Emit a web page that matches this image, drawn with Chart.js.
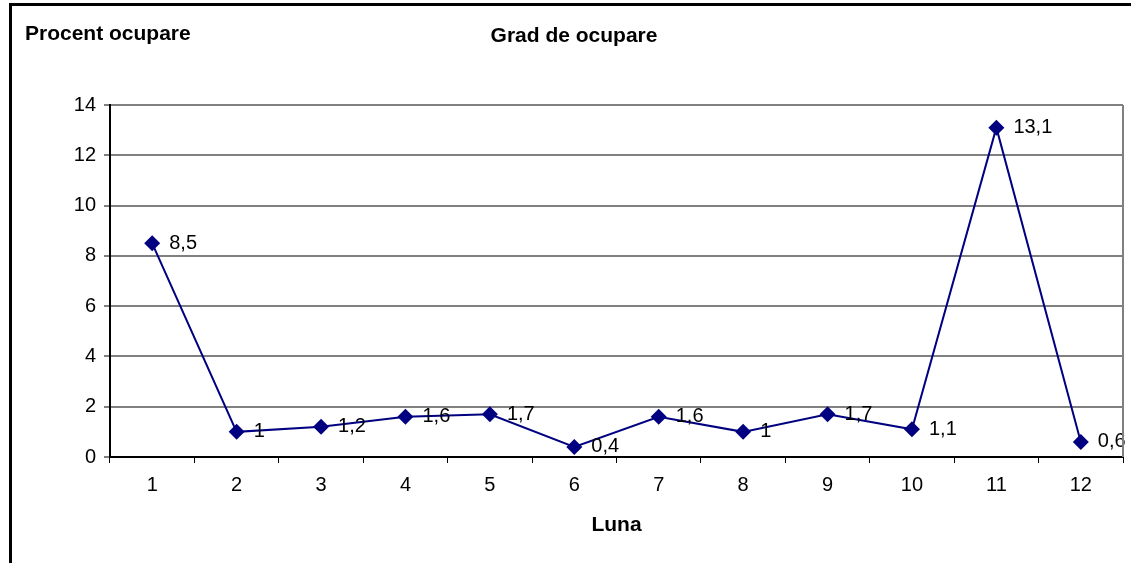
<!DOCTYPE html>
<html lang="ro">
<head>
    <meta charset="UTF-8">
    <title>Grad de ocupare</title>
    <script src="https://cdn.jsdelivr.net/npm/chart.js"></script>
    <style>
        body { margin: 0; background: white; }
        #wrap { position: relative; width: 1131px; height: 563px; }
    </style>
</head>
<body>
    <div id="wrap">
        <canvas id="occChart" width="1131" height="563"></canvas>
    </div>

    <script>
        const months = ["1", "2", "3", "4", "5", "6", "7", "8", "9", "10", "11", "12"];
        const occupancy = [8.5, 1, 1.2, 1.6, 1.7, 0.4, 1.6, 1, 1.7, 1.1, 13.1, 0.6];
        const yTicks = [0, 2, 4, 6, 8, 10, 12, 14];

        const FONT = "'Liberation Sans', Arial, sans-serif";

        // outer frame + the two titles that sit outside the plot
        const framePlugin = {
            id: "frame",
            beforeDraw(chart) {
                const c = chart.ctx;
                c.save();
                c.fillStyle = "#000";
                c.fillRect(9, 3, 3, 560);
                c.fillRect(9, 3, 1122, 3);
                c.font = "bold 21px " + FONT;
                c.textBaseline = "alphabetic";
                c.textAlign = "left";
                c.fillText("Procent ocupare", 25, 40);
                c.textAlign = "center";
                c.fillText("Grad de ocupare", 574, 42);
                c.restore();
            },
            afterDraw(chart) {
                const a = chart.chartArea;
                const c = chart.ctx;
                c.save();
                c.strokeStyle = "#808080";
                c.lineWidth = 2;
                c.beginPath();
                c.moveTo(a.right, a.top);
                c.lineTo(a.right, a.bottom);
                c.stroke();
                c.restore();
            }
        };

        // value labels to the right of each marker, comma decimals
        const valueLabels = {
            id: "valueLabels",
            afterDatasetsDraw(chart) {
                const c = chart.ctx;
                const meta = chart.getDatasetMeta(0);
                c.save();
                c.font = "20px " + FONT;
                c.fillStyle = "#000";
                c.textAlign = "left";
                c.textBaseline = "middle";
                meta.data.forEach((pt, i) => {
                    const txt = String(occupancy[i]).replace(".", ",");
                    c.fillText(txt, pt.x + 17, pt.y);
                });
                c.restore();
            }
        };

        const ctx = document.getElementById("occChart").getContext("2d");
        new Chart(ctx, {
            type: "line",
            data: {
                labels: months,
                datasets: [{
                    data: occupancy,
                    borderColor: "#000080",
                    backgroundColor: "#000080",
                    borderWidth: 2,
                    pointStyle: "rectRot",
                    pointRadius: 8,
                    pointBorderWidth: 0,
                    tension: 0
                }]
            },
            options: {
                responsive: false,
                animation: false,
                layout: { padding: { left: 50, right: 7, top: 105, bottom: 0 } },
                plugins: {
                    legend: { display: false },
                    tooltip: { enabled: false },
                    title: { display: false }
                },
                scales: {
                    x: {
                        offset: true,
                        grid: {
                            offset: true,
                            drawOnChartArea: false,
                            drawTicks: true,
                            tickLength: 6,
                            tickColor: "#000",
                            tickWidth: 1
                        },
                        border: { color: "#000", width: 2 },
                        ticks: {
                            color: "#000",
                            padding: 10,
                            maxRotation: 0,
                            font: { family: FONT, size: 20 }
                        },
                        title: {
                            display: true,
                            text: "Luna",
                            color: "#000",
                            padding: { top: 0, bottom: 25 },
                            font: { family: FONT, size: 21, weight: "bold" }
                        },
                        afterFit(scale) { scale.height = 106; }
                    },
                    y: {
                        min: 0,
                        max: 14,
                        afterBuildTicks(scale) {
                            scale.ticks = yTicks.map(v => ({ value: v }));
                        },
                        grid: {
                            color: "#808080",
                            lineWidth: 2,
                            tickLength: 6,
                            tickColor: "#000",
                            tickWidth: 1
                        },
                        border: { color: "#000", width: 2 },
                        ticks: {
                            color: "#000",
                            padding: 8,
                            font: { family: FONT, size: 20 }
                        },
                        afterFit(scale) { scale.width = 60; }
                    }
                }
            },
            plugins: [framePlugin, valueLabels]
        });
    </script>
</body>
</html>
